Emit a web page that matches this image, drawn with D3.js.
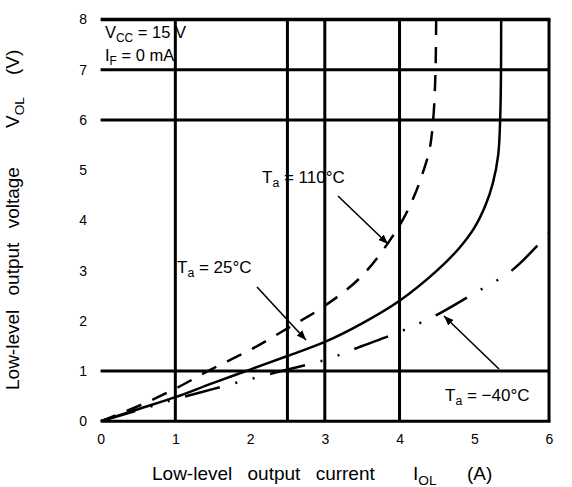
<!DOCTYPE html>
<html><head><meta charset="utf-8">
<script src="https://cdn.jsdelivr.net/npm/d3@7"></script>
<style>body{margin:0;background:#fff}text{font-family:"Liberation Sans",Arial,sans-serif;fill:#000}</style>
</head><body><svg id="c" width="572" height="487"></svg>
<script>
const xTicks = [0,1,2,3,4,5,6];
const yTicks = [0,1,2,3,4,5,6,7,8];
const xGrid = [1,2.5,3,4];
const yGrid = [1,6,7];
// Ta = 110 C (dashed)
const hotI = [0,0.5,1,1.5,2,2.5,3,3.5,4,4.2,4.3,4.4,4.45,4.48,4.49];
const hotV = [0,0.3,0.65,1.05,1.42,1.85,2.3,2.9,3.9,4.5,4.9,5.4,6.0,6.9,8.0];
// Ta = 25 C (solid)
const roomI = [0,0.5,1,1.5,2,2.5,3,3.5,4,4.5,4.8,5.0,5.15,5.25,5.32,5.35,5.36];
const roomV = [0,0.24,0.48,0.76,1.03,1.3,1.58,1.95,2.4,3.0,3.45,3.85,4.3,4.75,5.3,6.2,8.0];
// Ta = -40 C (dash-dot-dot)
const coldI = [0,0.5,1,1.5,2,2.5,3,3.5,4,4.5,5,5.5,6];
const coldV = [0,0.22,0.44,0.64,0.84,1.03,1.22,1.5,1.78,2.12,2.55,3.0,3.75];

const svg = d3.select("#c");
const x = d3.scaleLinear().domain([0,6]).range([100.6,549]);
const y = d3.scaleLinear().domain([0,8]).range([421.3,19.5]);

const defs = svg.append("defs");
defs.append("clipPath").attr("id","clip")
  .append("rect").attr("x",x(0)).attr("y",y(8)).attr("width",x(6)-x(0)).attr("height",y(0)-y(8));
const mk = defs.append("marker").attr("id","arr").attr("viewBox","0 0 10 10")
  .attr("refX",10).attr("refY",5).attr("markerWidth",6).attr("markerHeight",6).attr("orient","auto");
mk.append("path").attr("d","M0,1 L10,5 L0,9 z").attr("fill","#000");

// grid & frame
const g = svg.append("g").attr("stroke","#000").attr("stroke-width",3);
xGrid.forEach(v=>g.append("line").attr("x1",x(v)).attr("x2",x(v)).attr("y1",y(8)).attr("y2",y(0)));
yGrid.forEach(v=>g.append("line").attr("x1",x(0)).attr("x2",x(6)).attr("y1",y(v)).attr("y2",y(v)));
g.append("line").attr("x1",x(0)).attr("x2",x(6)+1.5).attr("y1",y(8)).attr("y2",y(8)).attr("stroke-width",3.5);
g.append("line").attr("x1",x(0)).attr("x2",x(6)+1.5).attr("y1",y(0)).attr("y2",y(0));
g.append("line").attr("x1",x(6)).attr("x2",x(6)).attr("y1",y(8)).attr("y2",y(0));

// tick labels through d3 axes (no tick lines)
const xa = svg.append("g").attr("transform",`translate(0,${y(0)})`)
  .call(d3.axisBottom(x).tickValues(xTicks).tickFormat(d3.format("d")).tickSize(0).tickPadding(12.5));
const ya = svg.append("g").attr("transform",`translate(${x(0)},0)`)
  .call(d3.axisLeft(y).tickValues(yTicks).tickFormat(d3.format("d")).tickSize(0).tickPadding(13.5));
[xa,ya].forEach(a=>{a.select(".domain").remove();a.selectAll("text").attr("font-size",14).attr("font-family","Liberation Sans, Arial, sans-serif");});

// curves
const line = d3.line().x(d=>x(d[0])).y(d=>y(d[1])).curve(d3.curveCatmullRom.alpha(0.5));
const cg = svg.append("g").attr("clip-path","url(#clip)").attr("fill","none").attr("stroke","#000").attr("stroke-width",2.5);
cg.append("path").attr("d",line(d3.zip(hotI,hotV))).attr("stroke-dasharray","16,12");
cg.append("path").attr("d",line(d3.zip(roomI,roomV)));
cg.append("path").attr("d",line(d3.zip(coldI,coldV))).attr("stroke-dasharray","36,16,2,16,2,16");

// leaders
const lg = svg.append("g").attr("stroke","#000").attr("stroke-width",1.6);
lg.append("line").attr("x1",338).attr("y1",196).attr("x2",388).attr("y2",244).attr("marker-end","url(#arr)");
lg.append("line").attr("x1",257).attr("y1",287).attr("x2",306).attr("y2",340).attr("marker-end","url(#arr)");
lg.append("line").attr("x1",499).attr("y1",369).attr("x2",444).attr("y2",316).attr("marker-end","url(#arr)");

// parts: {t, sub, x}
function label(parent,tx,ty,parts,size){
  const t = parent.append("text").attr("x",tx).attr("y",ty).attr("font-size",size);
  let low = false;
  parts.forEach(p=>{
    const s = t.append("tspan").text(p.t);
    if(p.x!==undefined) s.attr("x",p.x);
    if(p.sub){ s.attr("font-size",size*0.72).attr("dy",size*0.25); low=true; }
    else if(low){ s.attr("dy",-size*0.25); low=false; }
    if(p.ws) s.attr("word-spacing",p.ws);
  });
  return t;
}
label(svg,262,183,[{t:"T"},{t:"a",sub:1},{t:" = 110°C"}],17);
label(svg,177,273,[{t:"T"},{t:"a",sub:1},{t:" = 25°C"}],17);
label(svg,445,401,[{t:"T"},{t:"a",sub:1},{t:" = −40°C"}],17);
label(svg,105,38,[{t:"V"},{t:"CC",sub:1},{t:" = 15 V"}],16.5);
label(svg,105,61,[{t:"I"},{t:"F",sub:1},{t:" = 0 mA"}],16.5);

// axis titles
label(svg,152,480,[{t:"Low-level output current",ws:10},{t:"I",x:413},{t:"OL",sub:1},{t:"(A)",x:467}],19);
const yg = svg.append("g").attr("transform","translate(19,0) rotate(-90)");
label(yg,-390,0,[{t:"Low-level output voltage",ws:9},{t:"V",x:-128},{t:"OL",sub:1},{t:"(V)",x:-75}],19);
</script></body></html>
